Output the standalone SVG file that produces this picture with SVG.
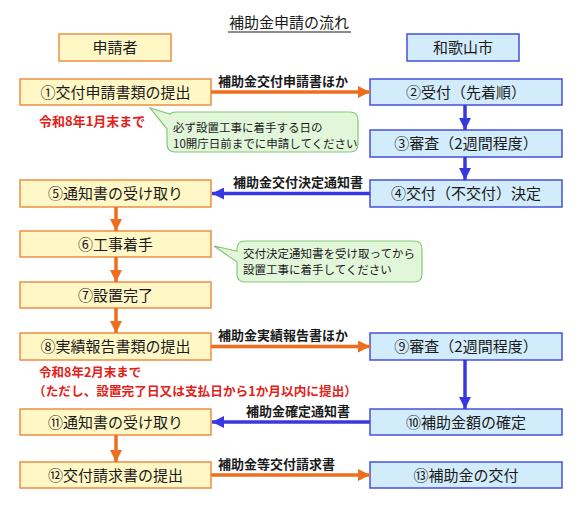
<svg xmlns="http://www.w3.org/2000/svg" width="581" height="507" viewBox="0 0 581 507">
<style>
text{font-family:"Noto Sans CJK JP","Noto Sans",sans-serif;}
.lb rect{fill:#FFF8C6;stroke:#EE8E45;stroke-width:1.5;}
.rb rect{fill:#D2ECFB;stroke:#4650DC;stroke-width:1.5;}
.bt{font-size:15px;text-anchor:middle;fill:#1a1a1a;}
.cl{font-size:13px;font-weight:bold;fill:#1a1a1a;}
.red{font-size:13px;font-weight:bold;fill:#E32219;}
.call{fill:#E2F7DA;stroke:#84C977;stroke-width:1.2;}
.ct{font-size:11.5px;fill:#1a1a1a;}
.oa{stroke:#EF6E1E;stroke-width:3.5;fill:none;}
.ba{stroke:#3838E0;stroke-width:3.5;fill:none;}
</style>
<defs>
<marker id="mo" markerUnits="userSpaceOnUse" markerWidth="12" markerHeight="12" viewBox="0 0 12 12" refX="12" refY="6" orient="auto"><path d="M0,0 L12,6 L0,12 Z" fill="#EF6E1E"/></marker>
<marker id="mb" markerUnits="userSpaceOnUse" markerWidth="12" markerHeight="12" viewBox="0 0 12 12" refX="12" refY="6" orient="auto"><path d="M0,0 L12,6 L0,12 Z" fill="#3838E0"/></marker>
</defs>
<rect width="581" height="507" fill="#fff"/>
<g id="title">
<text x="289" y="28" style="font-size:15px;text-anchor:middle;fill:#1a1a1a">補助金申請の流れ</text>
<line x1="228" y1="32" x2="351" y2="32" stroke="#1a1a1a" stroke-width="1"/>
</g>
<g id="h1" class="lb"><rect x="59" y="34" width="112" height="27"/><text class="bt" x="115" y="53">申請者</text></g>
<g id="h2" class="rb"><rect x="407" y="34" width="112" height="27"/><text class="bt" x="463" y="53">和歌山市</text></g>

<g id="n1" class="lb"><rect x="20" y="79" width="191" height="26"/><text class="bt" x="115.5" y="97.5">①交付申請書類の提出</text></g>
<g id="n5" class="lb"><rect x="20" y="180" width="191" height="27"/><text class="bt" x="115.5" y="199">⑤通知書の受け取り</text></g>
<g id="n6" class="lb"><rect x="20" y="231" width="191" height="26"/><text class="bt" x="115.5" y="249.5">⑥工事着手</text></g>
<g id="n7" class="lb"><rect x="20" y="282" width="191" height="26"/><text class="bt" x="115.5" y="300.5">⑦設置完了</text></g>
<g id="n8" class="lb"><rect x="20" y="333" width="191" height="27"/><text class="bt" x="115.5" y="352">⑧実績報告書類の提出</text></g>
<g id="n11" class="lb"><rect x="20" y="409" width="191" height="26"/><text class="bt" x="115.5" y="427.5">⑪通知書の受け取り</text></g>
<g id="n12" class="lb"><rect x="20" y="462" width="191" height="26"/><text class="bt" x="115.5" y="480.5">⑫交付請求書の提出</text></g>

<g id="n2" class="rb"><rect x="370" y="79" width="192" height="26"/><text class="bt" x="466" y="97.5">②受付（先着順）</text></g>
<g id="n3" class="rb"><rect x="370" y="130" width="192" height="27"/><text class="bt" x="466" y="149">③審査（2週間程度）</text></g>
<g id="n4" class="rb"><rect x="370" y="180" width="192" height="27"/><text class="bt" x="466" y="199">④交付（不交付）決定</text></g>
<g id="n9" class="rb"><rect x="370" y="333" width="192" height="27"/><text class="bt" x="466" y="352">⑨審査（2週間程度）</text></g>
<g id="n10" class="rb"><rect x="370" y="409" width="192" height="26"/><text class="bt" x="466" y="427.5">⑩補助金額の確定</text></g>
<g id="n13" class="rb"><rect x="370" y="462" width="192" height="26"/><text class="bt" x="466" y="480.5">⑬補助金の交付</text></g>

<g id="connectors">
<line class="oa" x1="211" y1="92" x2="370" y2="92" marker-end="url(#mo)"/>
<line class="ba" x1="370" y1="193.5" x2="212" y2="193.5" marker-end="url(#mb)"/>
<line class="oa" x1="211" y1="346.5" x2="370" y2="346.5" marker-end="url(#mo)"/>
<line class="ba" x1="370" y1="422" x2="212" y2="422" marker-end="url(#mb)"/>
<line class="oa" x1="211" y1="475" x2="370" y2="475" marker-end="url(#mo)"/>
<line class="ba" x1="465" y1="105" x2="465" y2="130" marker-end="url(#mb)"/>
<line class="ba" x1="465" y1="157" x2="465" y2="180" marker-end="url(#mb)"/>
<line class="ba" x1="465" y1="360" x2="465" y2="409" marker-end="url(#mb)"/>
<line class="oa" x1="116" y1="207" x2="116" y2="231" marker-end="url(#mo)"/>
<line class="oa" x1="116" y1="257" x2="116" y2="282" marker-end="url(#mo)"/>
<line class="oa" x1="116" y1="308" x2="116" y2="333" marker-end="url(#mo)"/>
<line class="oa" x1="116" y1="435" x2="116" y2="462" marker-end="url(#mo)"/>
<text class="cl" x="218" y="86">補助金交付申請書ほか</text>
<text class="cl" x="233" y="187">補助金交付決定通知書</text>
<text class="cl" x="218" y="340">補助金実績報告書ほか</text>
<text class="cl" x="246" y="416">補助金確定通知書</text>
<text class="cl" x="218" y="469">補助金等交付請求書</text>
</g>

<g id="note1">
<text class="red" x="39" y="126">令和8年1月末まで</text>
</g>
<g id="note2">
<text class="red" x="39" y="377" style="font-size:12.5px">令和8年2月末まで</text>
<text class="red" x="33" y="396" style="font-size:12.5px" textLength="324" lengthAdjust="spacingAndGlyphs">（ただし、設置完了日又は支払日から1か月以内に提出）</text>
</g>
<g id="callout1">
<path class="call" d="M176,112 H350 Q358,112 358,120 V144 Q358,152 350,152 H175 Q167,152 167,144 V129 L150,108 L170,114 Q172,112 176,112 Z"/>
<text class="ct" x="173" y="132">必ず設置工事に着手する日の</text>
<text class="ct" x="173" y="147.5">10開庁日前までに申請してください</text>
</g>
<g id="callout2">
<path class="call" d="M245,241 H414 Q422,241 422,249 V274 Q422,282 414,282 H245 Q237,282 237,274 V262 L214,246 L237,251 V249 Q237,241 245,241 Z"/>
<text class="ct" x="243" y="258">交付決定通知書を受け取ってから</text>
<text class="ct" x="243" y="274">設置工事に着手してください</text>
</g>
</svg>
